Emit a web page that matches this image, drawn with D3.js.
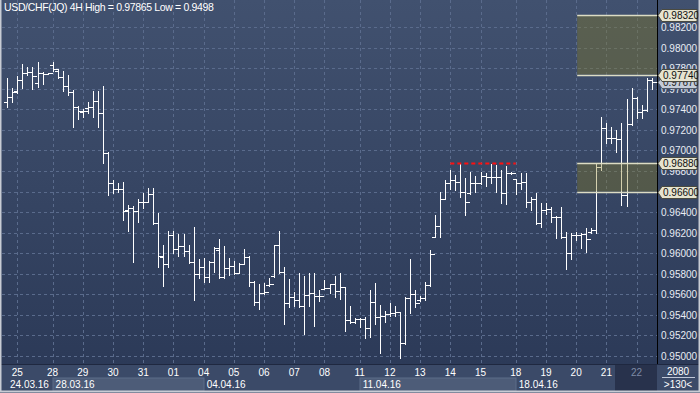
<!DOCTYPE html>
<html>
<head>
<meta charset="utf-8">
<script src="https://cdnjs.cloudflare.com/ajax/libs/d3/7.8.5/d3.min.js"></script>
<style>
  html, body { margin: 0; padding: 0; background: #3b4a68; }
  svg { display: block; }
  text { font-family: "Liberation Sans", Arial, sans-serif; }
</style>
</head>
<body>
<div id="wrapper"></div>
<script>
// 4H bars, oldest first (one value per bar)
const open = [0.97469,0.97524,0.97575,0.97686,0.97752,0.97764,0.97654,0.97752,0.97745,0.97833,
  0.97777,0.97719,0.97628,0.97567,0.97426,0.97377,0.97411,0.97426,0.97485,0.97368,
  0.96978,0.96680,0.96621,0.96621,0.96419,0.96436,0.96410,0.96495,0.96500,0.96573,
  0.96290,0.95965,0.95893,0.96176,0.96037,0.96072,0.96023,0.95910,0.95796,0.95861,
  0.95769,0.95916,0.96030,0.95769,0.95851,0.95874,0.95808,0.95895,0.95962,0.95721,
  0.95526,0.95608,0.95686,0.95776,0.96078,0.95818,0.95510,0.95569,0.95543,0.95484,
  0.95591,0.95608,0.95582,0.95650,0.95657,0.95698,0.95633,0.95666,0.95348,0.95331,
  0.95354,0.95360,0.95267,0.95526,0.95374,0.95387,0.95406,0.95419,0.95428,0.95121,
  0.95560,0.95601,0.95540,0.95559,0.95689,0.96157,0.96264,0.96524,0.96680,0.96712,
  0.96690,0.96598,0.96585,0.96686,0.96686,0.96751,0.96738,0.96738,0.96744,0.96588,
  0.96783,0.96719,0.96680,0.96695,0.96500,0.96524,0.96290,0.96419,0.96426,0.96354,
  0.96354,0.96160,0.96004,0.96180,0.96176,0.96186,0.96205,0.96225,0.96842,0.97216,
  0.97118,0.97118,0.97109,0.96566,0.97255,0.97508,0.97372,0.97394,0.97686]
const high = [0.97703,0.97606,0.97725,0.97842,0.97810,0.97816,0.97865,0.97761,0.97755,0.97859,
  0.97791,0.97777,0.97735,0.97589,0.97433,0.97401,0.97475,0.97582,0.97582,0.97628,
  0.96988,0.96712,0.96680,0.96690,0.96468,0.96458,0.96527,0.96582,0.96631,0.96631,
  0.96387,0.96078,0.96218,0.96215,0.96183,0.96186,0.96078,0.96257,0.95942,0.95949,
  0.95926,0.96056,0.96137,0.96069,0.95949,0.95926,0.95900,0.96039,0.95968,0.95731,
  0.95698,0.95705,0.95754,0.96078,0.96215,0.95861,0.95744,0.95623,0.95808,0.95776,
  0.95808,0.95803,0.95640,0.95737,0.95698,0.95776,0.95808,0.95672,0.95484,0.95364,
  0.95364,0.95380,0.95640,0.95705,0.95494,0.95438,0.95510,0.95484,0.95430,0.95575,
  0.95939,0.95640,0.95584,0.95721,0.96030,0.96371,0.96592,0.96712,0.96809,0.96761,
  0.96875,0.96729,0.96793,0.96751,0.96793,0.96777,0.96868,0.96858,0.96809,0.96848,
  0.96793,0.96719,0.96777,0.96777,0.96549,0.96588,0.96485,0.96485,0.96446,0.96361,
  0.96452,0.96208,0.96193,0.96202,0.96193,0.96242,0.96242,0.96875,0.97329,0.97264,
  0.97231,0.97199,0.97264,0.97498,0.97606,0.97518,0.97443,0.97703,0.97706]
const low = [0.97426,0.97475,0.97560,0.97611,0.97735,0.97596,0.97621,0.97644,0.97742,0.97774,
  0.97703,0.97582,0.97540,0.97226,0.97303,0.97329,0.97368,0.97329,0.97226,0.96878,
  0.96566,0.96588,0.96598,0.96322,0.96218,0.95916,0.96305,0.96436,0.96500,0.96283,
  0.95867,0.95679,0.95861,0.95998,0.95971,0.95971,0.95903,0.95543,0.95754,0.95721,
  0.95721,0.95818,0.95754,0.95754,0.95786,0.95796,0.95803,0.95895,0.95679,0.95494,
  0.95452,0.95601,0.95679,0.95769,0.95808,0.95309,0.95471,0.95484,0.95477,0.95211,
  0.95484,0.95292,0.95536,0.95647,0.95608,0.95575,0.95549,0.95244,0.95322,0.95322,
  0.95276,0.95169,0.95179,0.95309,0.95023,0.95331,0.95390,0.95390,0.94980,0.95110,
  0.95419,0.95471,0.95536,0.95543,0.95679,0.96154,0.96154,0.96524,0.96621,0.96614,
  0.96549,0.96371,0.96580,0.96598,0.96670,0.96653,0.96680,0.96598,0.96485,0.96475,
  0.96770,0.96573,0.96621,0.96452,0.96419,0.96283,0.96257,0.96381,0.96305,0.96144,
  0.96150,0.95845,0.95939,0.96127,0.96046,0.96013,0.96198,0.96198,0.96809,0.97069,
  0.97069,0.96988,0.96468,0.96458,0.97245,0.97313,0.97313,0.97380,0.97600]
const close = [0.97524,0.97567,0.97686,0.97752,0.97764,0.97725,0.97752,0.97748,0.97752,0.97791,
  0.97716,0.97631,0.97567,0.97426,0.97387,0.97387,0.97426,0.97485,0.97368,0.96978,
  0.96680,0.96621,0.96621,0.96410,0.96436,0.96410,0.96495,0.96500,0.96573,0.96290,
  0.95971,0.95893,0.96176,0.96037,0.96072,0.96023,0.95910,0.95796,0.95861,0.95769,
  0.95916,0.96050,0.95769,0.95851,0.95874,0.95808,0.95895,0.95962,0.95721,0.95526,
  0.95608,0.95623,0.95698,0.96078,0.95818,0.95510,0.95569,0.95543,0.95484,0.95591,
  0.95608,0.95582,0.95582,0.95657,0.95698,0.95633,0.95666,0.95348,0.95331,0.95354,
  0.95360,0.95267,0.95526,0.95374,0.95387,0.95406,0.95419,0.95428,0.95121,0.95560,
  0.95601,0.95516,0.95559,0.95689,0.95991,0.96264,0.96524,0.96680,0.96712,0.96690,
  0.96598,0.96500,0.96686,0.96686,0.96751,0.96738,0.96738,0.96744,0.96588,0.96783,
  0.96777,0.96680,0.96695,0.96500,0.96524,0.96290,0.96419,0.96426,0.96354,0.96350,
  0.96160,0.96004,0.96180,0.96176,0.96186,0.96134,0.96225,0.96842,0.97216,0.97118,
  0.97118,0.97109,0.96566,0.97255,0.97508,0.97372,0.97394,0.97686,0.97670]

// x axis: day labels with the bar index where each day starts
const dayLabels = ['25','28','29','30','31','01','04','05','06','07','08','11','12','13','14','15','18','19','20','21','22']
const dayStart = [2,9,15,21,27,33,39,45,51,57,63,70,76,82,88,94,101,107,113,119,125]
const weekLabels = ['24.03.16','28.03.16','04.04.16','11.04.16','18.04.16']
const weekStart = [-1,9,39,70,101]

// price axis
const yTicks = d3.range(0.950, 0.98201, 0.002)
// drawn objects: two rectangles, one dashed level, and the price flags
const boxLevels = [[0.9774, 0.9832], [0.9660, 0.9688]]
const boxStartBar = 113.2
const dashLevel = 0.9688
const dashFrom = 88, dashTo = 101
const flagLevels = [0.9832, 0.9774, 0.9688, 0.9660]
const lastPrice = 0.9767

const title = 'USD/CHF(JQ) 4H High = 0.97865 Low = 0.9498'
const barsTotal = '2080'
const barsVisible = '>130<'

const dimensions = {
  width: 700,
  height: 393,
  plotLeft: 2,
  plotRight: 657,
  plotBottom: 364,
}

const svg = d3.select('#wrapper')
  .append('svg')
  .attr('width', dimensions.width)
  .attr('height', dimensions.height)

const defs = svg.append('defs')
const grad = defs.append('linearGradient').attr('id', 'bg').attr('x1', 0).attr('x2', 0).attr('y1', 0).attr('y2', 1)
grad.append('stop').attr('offset', '0%').attr('stop-color', '#41516f')
grad.append('stop').attr('offset', '100%').attr('stop-color', '#2c3a58')

const xScale = d3.scaleLinear().domain([0, open.length - 1]).range([7.3, 651.7])
const yScale = d3.scaleLinear().domain([0.95, 0.9832]).range([355.7, 15])
const px = v => Math.round(v) + 0.5

// background
svg.append('rect')
  .attr('width', dimensions.width).attr('height', dimensions.height)
  .attr('fill', '#3b4a68')
svg.append('rect')
  .attr('x', 0).attr('y', 0)
  .attr('width', dimensions.width).attr('height', dimensions.plotBottom)
  .attr('fill', 'url(#bg)')

// grid
const grid = svg.append('g')
  .attr('stroke', '#5a6b8c')
  .attr('stroke-dasharray', '3 3')
  .attr('shape-rendering', 'crispEdges')
grid.selectAll('.h')
  .data(yTicks)
  .enter().append('line')
  .attr('x1', dimensions.plotLeft).attr('x2', dimensions.plotRight)
  .attr('y1', d => px(yScale(d))).attr('y2', d => px(yScale(d)))
grid.selectAll('.v')
  .data(dayStart)
  .enter().append('line')
  .attr('x1', d => px(xScale(d))).attr('x2', d => px(xScale(d)))
  .attr('y1', 0).attr('y2', dimensions.plotBottom)

// OHLC bars
const bars = open.map((o, i) => ({ i, o, h: high[i], l: low[i], c: close[i] }))
svg.append('g')
  .attr('stroke', '#ffffff')
  .attr('fill', 'none')
  .attr('shape-rendering', 'crispEdges')
  .selectAll('path')
  .data(bars)
  .enter().append('path')
  .attr('d', d => {
    const x = px(xScale(d.i))
    return `M${x},${px(yScale(d.h)) - 0.5}V${px(yScale(d.l)) + 0.5}` +
      `M${x - 4},${px(yScale(d.o))}H${x}` +
      `M${x},${px(yScale(d.c))}H${x + 4}`
  })

// rectangles (translucent, so bars behind them look cream)
const boxes = svg.append('g')
boxes.selectAll('rect')
  .data(boxLevels)
  .enter().append('rect')
  .attr('x', xScale(boxStartBar))
  .attr('y', d => yScale(d[1]))
  .attr('width', dimensions.plotRight - xScale(boxStartBar))
  .attr('height', d => yScale(d[0]) - yScale(d[1]))
  .attr('fill', 'rgb(135,125,30)')
  .attr('fill-opacity', 0.36)
boxes.selectAll('line')
  .data(boxLevels.flat())
  .enter().append('line')
  .attr('x1', xScale(boxStartBar)).attr('x2', dimensions.plotRight)
  .attr('y1', d => px(yScale(d))).attr('y2', d => px(yScale(d)))
  .attr('stroke', '#dcdcc4')
  .attr('stroke-width', 1.5)

// dashed level
svg.append('line')
  .attr('x1', xScale(dashFrom)).attr('x2', xScale(dashTo))
  .attr('y1', px(yScale(dashLevel))).attr('y2', px(yScale(dashLevel)))
  .attr('stroke', '#ff1010')
  .attr('stroke-width', 2)
  .attr('stroke-dasharray', '4 3')

// title
svg.append('text')
  .attr('x', 4).attr('y', 11)
  .attr('fill', '#ffffff')
  .style('font-size', '10.5px')
  .style('letter-spacing', '-0.35px')
  .text(title)

// right price axis
svg.append('line')
  .attr('x1', px(dimensions.plotRight)).attr('x2', px(dimensions.plotRight))
  .attr('y1', 0).attr('y2', 391)
  .attr('stroke', '#000000')
svg.append('g')
  .selectAll('text')
  .data(yTicks)
  .enter().append('text')
  .attr('x', 661)
  .attr('y', d => yScale(d) + 4)
  .attr('fill', '#e8ecf4')
  .style('font-size', '10px')
  .text(d => d.toFixed(5))

// price flags
const flagPath = y => `M658,${y}L662,${y - 6}H697V${y + 6}H662Z`
const flags = svg.append('g')
const lastFlag = flags.append('g')
lastFlag.append('path')
  .attr('d', flagPath(Math.round(yScale(lastPrice)) + 0.5))
  .attr('fill', '#c4ccd8').attr('stroke', '#505a6a')
lastFlag.append('text')
  .attr('x', 663).attr('y', yScale(lastPrice) + 4)
  .attr('fill', '#202020').style('font-size', '10px')
  .text(lastPrice.toFixed(5))
const flagGroups = flags.selectAll('.flag')
  .data(flagLevels)
  .enter().append('g')
flagGroups.append('path')
  .attr('d', d => flagPath(Math.round(yScale(d)) + 0.5))
  .attr('fill', '#e6e4d0').attr('stroke', '#4a4a40')
flagGroups.append('text')
  .attr('x', 663).attr('y', d => yScale(d) + 4)
  .attr('fill', '#101010').style('font-size', '10px')
  .text(d => d.toFixed(5))

// bottom time axis
const axis = svg.append('g')
axis.append('rect')
  .attr('x', 0).attr('y', dimensions.plotBottom)
  .attr('width', dimensions.width).attr('height', dimensions.height - dimensions.plotBottom)
  .attr('fill', '#3b4a68')
axis.append('line')
  .attr('x1', 0).attr('x2', dimensions.width)
  .attr('y1', dimensions.plotBottom + 0.5).attr('y2', dimensions.plotBottom + 0.5)
  .attr('stroke', '#1f2840')

const weeks = weekStart.map((s, k) => ({
  label: weekLabels[k],
  x0: Math.max(xScale(s), dimensions.plotLeft),
  x1: k + 1 < weekStart.length ? xScale(weekStart[k + 1]) : dimensions.plotRight,
  shaded: k % 2 === 1
}))
axis.selectAll('.wk')
  .data(weeks.filter(d => d.shaded))
  .enter().append('rect')
  .attr('x', d => Math.round(d.x0)).attr('y', 378)
  .attr('width', d => Math.round(d.x1) - Math.round(d.x0)).attr('height', 13)
  .attr('fill', '#4d5c78')
  .attr('stroke', '#5d6c88')

// current day region
const curX = xScale(dayStart[dayStart.length - 1] - 4.2)
axis.append('rect')
  .attr('x', Math.round(curX)).attr('y', dimensions.plotBottom + 1)
  .attr('width', dimensions.plotRight - Math.round(curX)).attr('height', 26)
  .attr('fill', '#28324c')

axis.selectAll('.day')
  .data(dayLabels)
  .enter().append('text')
  .attr('x', (d, k) => xScale(dayStart[k]))
  .attr('y', 376)
  .attr('text-anchor', 'middle')
  .attr('fill', (d, k) => k === dayLabels.length - 1 ? '#7d8aa6' : '#ffffff')
  .style('font-size', '10px')
  .text(d => d)

axis.selectAll('.week')
  .data(weeks)
  .enter().append('text')
  .attr('x', d => Math.max(d.x0, 7) + 3)
  .attr('y', 388)
  .attr('fill', '#ffffff')
  .style('font-size', '10px')
  .text(d => d.label)

// corner counter
axis.append('text')
  .attr('x', 678).attr('y', 375).attr('text-anchor', 'middle')
  .attr('fill', '#ffffff').style('font-size', '10px')
  .text(barsTotal)
axis.append('line')
  .attr('x1', 662).attr('x2', 695).attr('y1', 377.5).attr('y2', 377.5)
  .attr('stroke', '#c0c8d8')
axis.append('text')
  .attr('x', 678).attr('y', 388).attr('text-anchor', 'middle')
  .attr('fill', '#ffffff').style('font-size', '10px')
  .text(barsVisible)

// window border
svg.append('rect')
  .attr('x', 0.5).attr('y', -1)
  .attr('width', dimensions.width - 1).attr('height', dimensions.height - 0.5)
  .attr('fill', 'none')
  .attr('stroke', '#c8ccd4')
  .attr('stroke-width', 2)
</script>
</body>
</html>
